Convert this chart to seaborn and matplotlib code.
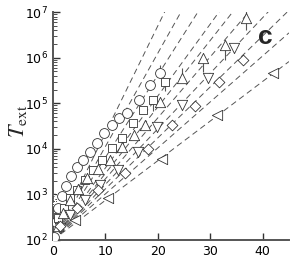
import numpy as np
import pandas as pd
import seaborn as sns
import matplotlib
matplotlib.use("Agg")
import matplotlib.pyplot as plt

# dashed guide lines: growth rate (decades per unit) starting from T=1e2 at 0
rates = [0.087, 0.101, 0.112, 0.122, 0.134, 0.146, 0.158, 0.181, 0.205, 0.235]

star_x = [0.3, 0.7, 1.1, 1.5, 2.0, 2.5, 3.0, 3.5, 4.0, 4.5, 5.0, 5.5, 6.0, 6.5, 7.0, 7.5, 8.0, 8.5, 9.0, 9.5, 10.0]
star_t = [630, 890, 1200, 1580, 2140, 2820, 3550, 4470, 5620, 6760, 8320, 10000, 11700, 13800, 15800, 18600, 21400, 24500, 28200, 31600, 36300]

circ_x = [0.2, 0.6, 1.0, 1.7, 2.5, 3.4, 4.6, 5.7, 7.0, 8.4, 9.7, 11.2, 12.6, 14.1, 16.4, 18.5, 20.4]
circ_t = [117, 245, 500, 910, 1510, 2510, 3980, 5620, 8510, 13500, 22400, 33100, 47900, 61700, 117500, 251000, 457000]

sq_x = [1.0, 2.1, 3.2, 4.6, 6.1, 7.6, 9.3, 11.2, 13.1, 15.2, 17.1, 19.0, 21.3]
sq_t = [300, 500, 830, 1260, 2090, 3470, 5620, 10500, 17400, 37200, 70800, 117500, 288000]

up_x = [1.0, 1.9, 3.2, 4.8, 6.5, 8.5, 10.9, 13.2, 15.5, 17.5, 20.4, 24.6, 28.6, 32.8, 36.8]
up_t = [200, 400, 760, 1320, 2240, 3550, 5620, 11200, 20000, 33100, 107000, 355000, 977000, 1910000, 7400000]

dn_x = [1.3, 3.2, 6.1, 9.0, 12.4, 16.2, 19.8, 24.6, 29.5, 34.5]
dn_t = [182, 355, 760, 1620, 3470, 8510, 30200, 91200, 355000, 1620000]

dia_x = [1.3, 4.6, 8.6, 13.7, 18.1, 22.7, 27.0, 31.6, 36.2]
dia_t = [200, 500, 1260, 2950, 10000, 33100, 87100, 288000, 891000]

lt_x = [4.2, 10.5, 20.8, 31.2, 41.9]
lt_t = [275, 830, 6030, 55000, 457000]

# a few error bars (x, T, lower, upper)
err_x = [20.4, 24.6, 28.6, 32.8, 36.8, 21.3, 19.0]
err_t = [457000, 355000, 977000, 1910000, 7400000, 288000, 117500]
err_lo = [0, 0, 500000, 1000000, 3400000, 100000, 50000]
err_hi = [250000, 250000, 0, 0, 6000000, 0, 0]

sns.set_style("ticks")
plt.rcParams["mathtext.fontset"] = "stix"

fig = plt.figure(figsize=(2.91, 2.58), dpi=100)
ax = fig.add_axes([0.182, 0.070, 0.811, 0.883])

xs = np.linspace(0, 45, 200)
for r in rates:
    sns.lineplot(x=xs, y=1e2 * 10 ** (r * xs), ax=ax, color="#555555",
                 lw=0.7, linestyle=(0, (6, 4)))

edge = "#333333"
ax.errorbar(err_x, err_t, yerr=[err_lo, err_hi], fmt="none", ecolor="#555555",
            elinewidth=0.8, capsize=0)

series = [
    (star_x, star_t, (6, 2, 0), 30),
    (circ_x, circ_t, "o", 50),
    (sq_x, sq_t, "s", 40),
    (up_x, up_t, "^", 55),
    (dn_x, dn_t, "v", 55),
    (dia_x, dia_t, "D", 30),
    (lt_x, lt_t, "<", 55),
]
for sx, st, m, s in series:
    sns.scatterplot(x=sx, y=st, ax=ax, marker=m, s=s, facecolor="white",
                    edgecolor=edge, linewidth=0.6, zorder=3)

ax.set_yscale("log")
ax.set_xlim(0, 45)
ax.set_ylim(1e2, 1e7)
ax.set_xticks([0, 10, 20, 30, 40])
ax.tick_params(axis="both", which="both", direction="in", colors="#333333",
               labelsize=9, labelcolor="black")
ax.tick_params(axis="y", which="major", length=5, width=1)
ax.tick_params(axis="y", which="minor", length=3, width=0.6)
ax.tick_params(axis="x", which="major", length=5, width=1)
for side in ["top", "right"]:
    ax.spines[side].set_visible(False)
for side in ["left", "bottom"]:
    ax.spines[side].set_color("#555555")
    ax.spines[side].set_linewidth(1.4)

ax.set_ylabel(r"$T_{\rm ext}$", fontsize=16)
ax.yaxis.set_label_coords(-0.10, 0.52)
ax.text(0.90, 0.89, "c", transform=ax.transAxes, fontsize=19,
        fontweight="bold", family="Liberation Sans", ha="center", va="center")

fig.savefig("out.png", dpi=100)
